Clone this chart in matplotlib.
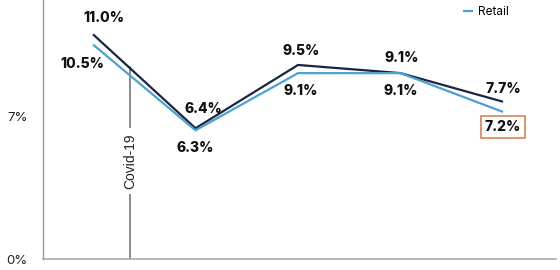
import matplotlib
matplotlib.use("Agg")
import matplotlib.pyplot as plt

periods = [0, 1, 2, 3, 4]
total = [11.0, 6.4, 9.5, 9.1, 7.7]
retail = [10.5, 6.3, 9.1, 9.1, 7.2]
total_labels = ["11.0%", "6.4%", "9.5%", "9.1%", "7.7%"]
retail_labels = ["10.5%", "6.3%", "9.1%", "9.1%", "7.2%"]
yticks = [0, 7]
ytick_labels = ["0%", "7%"]
covid_x = 0.36

plt.rcParams['font.family'] = ['Inter', 'DejaVu Sans']

fig = plt.figure(figsize=(5.6, 2.7), dpi=100)
ax = fig.add_axes([43/560, 11/270, (556-43)/560, 259/270])

dark = "#1b2440"
light = "#4ea0cf"

ax.plot(periods, total, color=dark, lw=1.6, solid_capstyle='butt')
ax.plot(periods, retail, color=light, lw=1.6, solid_capstyle='butt', label="Retail")

ax.set_xlim(-0.488, 4.517)
ax.set_ylim(0, 12.68)

# offsets in points for labels
t_off = [(8, 12), (6, 14), (2, 10), (1, 11), (0, 9)]
r_off = [(-8, -14), (0, -13), (2, -13), (0, -13), (0, -11)]
for i, (x, y) in enumerate(zip(periods, total)):
    ax.annotate(total_labels[i], (x, y), xytext=t_off[i], textcoords='offset points',
                ha='center', va='center', fontsize=10, fontweight='heavy', color='#111111')
for i, (x, y) in enumerate(zip(periods, retail)):
    kw = {}
    if i == 4:
        kw['bbox'] = dict(boxstyle='square,pad=0.28', fc='white', ec='#d9825c', lw=1.2)
    ax.annotate(retail_labels[i], (x, y), xytext=r_off[i], textcoords='offset points',
                ha='center', va='center', fontsize=10, fontweight='heavy', color='#111111', **kw)

# covid line
ax.plot([covid_x, covid_x], [0, 9.4], color='#777777', lw=1.2, zorder=1)
ax.text(covid_x, 4.8, "Covid-19", rotation=90, ha='center', va='center', fontsize=10,
        family=['Liberation Sans', 'DejaVu Sans'], color='#222222',
        bbox=dict(boxstyle='square,pad=0.35', fc='white', ec='none'), zorder=2)

ax.set_yticks(yticks)
ax.set_yticklabels(ytick_labels, fontsize=9.5, color='#222222')
ax.tick_params(axis='y', length=0, pad=11)
ax.set_xticks([])
for s in ['top', 'right']:
    ax.spines[s].set_visible(False)
ax.spines['left'].set_color('#999999')
ax.spines['bottom'].set_color('#aaaaaa')
ax.spines['left'].set_linewidth(1.0)
ax.spines['bottom'].set_linewidth(1.2)

ax.legend(loc='center left', bbox_to_anchor=(459/560, 1 - 12/270),
          bbox_transform=fig.transFigure, frameon=False, fontsize=8.5,
          handlelength=0.9, handletextpad=0.45, borderaxespad=0.0, borderpad=0.3)

fig.savefig("out.png", dpi=100)
